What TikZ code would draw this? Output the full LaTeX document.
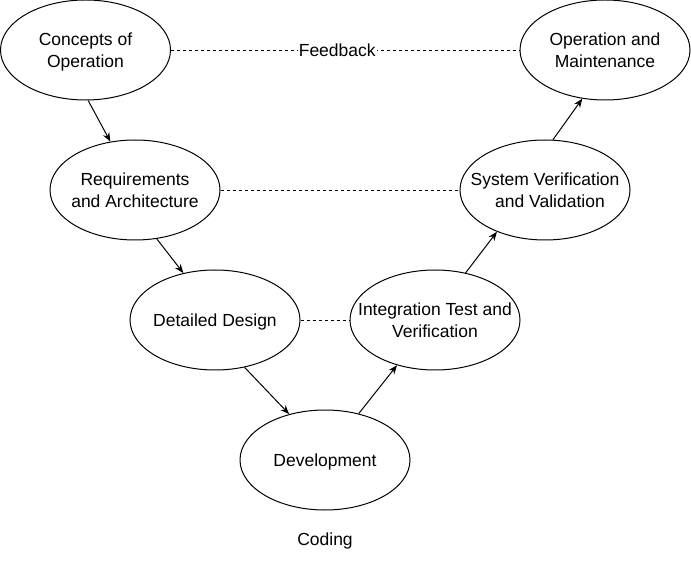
\documentclass[tikz,border=0pt]{standalone}
\usepackage{fontspec}
\setmainfont{Liberation Sans}
\usetikzlibrary{arrows.meta,shapes.geometric}
\begin{document}
\begin{tikzpicture}[x=1pt,y=-1pt,
  txt/.style={align=center,font=\fontsize{17.5}{22}\selectfont,inner sep=0pt,yshift=-2pt,execute at end node={\vphantom{p}}},
  phase/.style={draw=black,line width=1pt,ellipse,minimum width=170pt,minimum height=100pt,inner sep=0pt,label={[txt]center:#1}},
  flow/.style={line width=1pt,-{Stealth[length=9pt,width=7pt]}},
  link/.style={line width=0.8pt,dash pattern=on 3pt off 3pt},
  lbl/.style={font=\fontsize{17.5}{22}\selectfont,inner sep=1pt}]
\useasboundingbox (0,0) rectangle (691,561);
\node[phase={Concepts of\\Operation}] (con) at (85.5,50) {};
\node[phase={Operation and\\Maintenance}] (opm) at (605,50) {};
\node[phase={Requirements\\and Architecture}] (req) at (135,190) {};
\node[phase={System Verification\\\hspace*{10pt}and Validation}] (svv) at (545,190) {};
\node[phase={Detailed Design}] (det) at (215,320) {};
\node[phase={Integration Test and\\Verification}] (itv) at (435,320) {};
\node[phase={Development}] (dev) at (325,460) {};
\node[lbl] (cod) at (325,541) {Coding};
\draw[link] (con.east) -- (opm.west) node[pos=0.477,fill=white,lbl] (fb) {Feedback};
\draw[link] (req.east) -- (svv.west);
\draw[link] (det.east) -- (itv.west);
\draw[flow] (con.-87) -- (req.117);
\draw[flow] (req.-66) -- (det.124);
\draw[flow] (det.-58) -- (dev.128);
\draw[flow] (dev.54) -- (itv.-130);
\draw[flow] (itv.57) -- (svv.-139);
\draw[flow] (svv.81) -- (opm.-115);
\end{tikzpicture}
\end{document}
